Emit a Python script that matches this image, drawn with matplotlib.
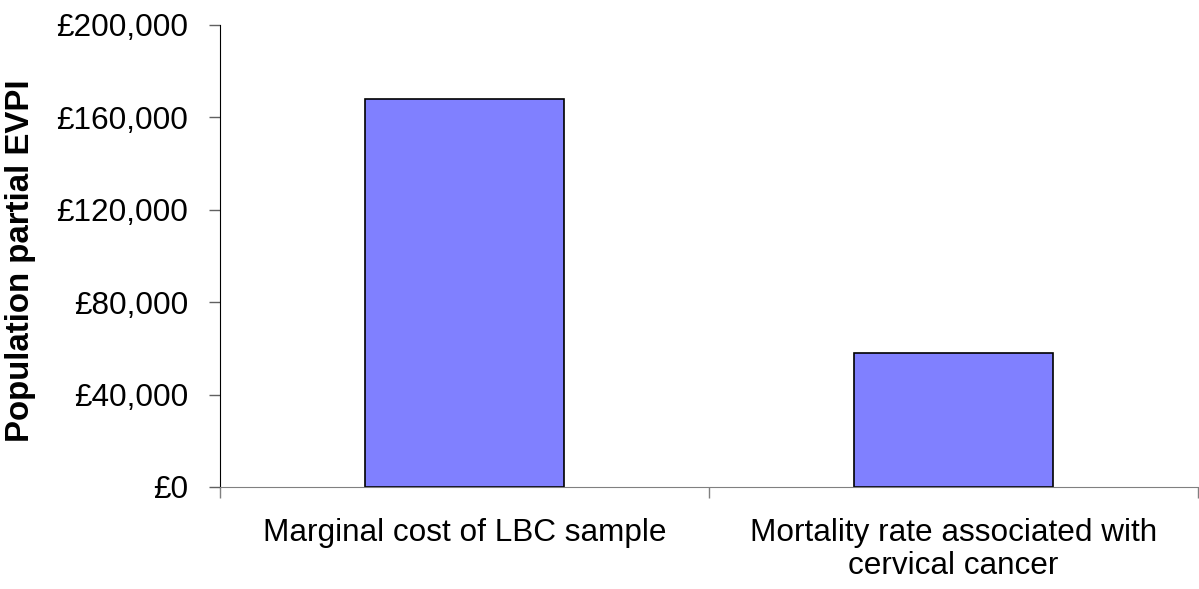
import numpy as np
import matplotlib.pyplot as plt

# DATA

categories = ["Marginal cost of LBC sample", "Mortality rate associated with\ncervical cancer"]
evpi = [168000, 57800]
yticks = [0, 40000, 80000, 120000, 160000, 200000]

plt.rcParams['font.family'] = ['Liberation Sans', 'DejaVu Sans']
FS = 22.7

W, H = 1199, 589
fig = plt.figure(figsize=(W / 100, H / 100), dpi=100)
ax = fig.add_axes([220 / W, 1 - 487 / H, (1198 - 220) / W, (487 - 25) / H])

x = np.arange(len(categories))
ax.bar(x, evpi, width=0.405, color="#8080FF", edgecolor="black", linewidth=1.2, zorder=3)

ax.set_xlim(-0.5, 1.5)
ax.set_ylim(0, 200000)
ax.set_yticks(yticks)
ax.set_yticklabels(["£{:,}".format(v) for v in yticks], fontsize=FS)

# category boundaries as major ticks, labels on minor ticks
ax.set_xticks([-0.5, 0.5, 1.5])
ax.set_xticklabels([])
ax.set_xticks(x, minor=True)
ax.set_xticklabels(categories, minor=True, fontsize=FS, linespacing=1.13)
ax.tick_params(axis="x", which="major", length=8, width=1, color="#808080", direction="out")
ax.tick_params(axis="x", which="minor", length=0, pad=22)
ax.tick_params(axis="y", length=8, width=1, color="#606060", pad=15)

for s in ["top", "right"]:
    ax.spines[s].set_visible(False)
ax.spines["left"].set_color("black")
ax.spines["bottom"].set_color("#808080")
ax.spines["bottom"].set_zorder(4)

ax.set_ylabel("Population partial EVPI", fontsize=23.8, fontweight="bold")
ax.yaxis.set_label_coords(-0.188, 0.49)

fig.savefig("out.png", dpi=100)
